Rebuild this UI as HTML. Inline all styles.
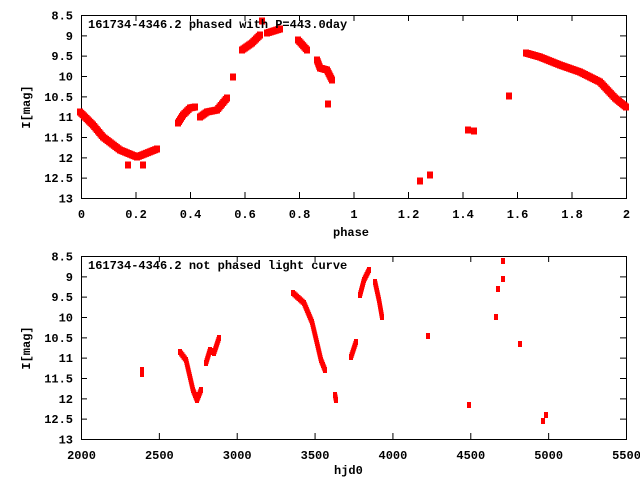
<!DOCTYPE html><html><head><style>body{margin:0;background:#fff}svg{display:block;font-family:"Liberation Mono","DejaVu Sans Mono",monospace;font-size:12px;font-weight:bold}</style></head><body>
<svg id="s" width="640" height="480" xmlns="http://www.w3.org/2000/svg">
<rect width="640" height="480" fill="#fff"/>
<g id="ax" stroke="#000" fill="none" stroke-width="1"></g>
<g id="pts" fill="#f00"></g>
<text x="88" y="28">161734-4346.2 phased with P=443.0day</text>
<text x="88" y="269">161734-4346.2 not phased light curve</text>
<text x="333" y="236">phase</text>
<text x="334" y="474">hjd0</text>
<text transform="translate(30,107) rotate(-90)" text-anchor="middle">I[mag]</text>
<text transform="translate(30,348) rotate(-90)" text-anchor="middle">I[mag]</text>
<g id="lb" text-anchor="end"></g>
</svg>
<script>
var NS="http://www.w3.org/2000/svg",ax=document.getElementById('ax'),lb=document.getElementById('lb'),pts=document.getElementById('pts');
function el(p,t,a,txt){var e=document.createElementNS(NS,t);for(var k in a)e.setAttribute(k,a[k]);if(txt)e.textContent=txt;p.appendChild(e);}
function panel(y0,y1,xl){el(ax,'rect',{x:81.5,y:y0+.5,width:545,height:y1-y0});
var yl=['8.5','9','9.5','10','10.5','11','11.5','12','12.5','13'];
for(var i=0;i<10;i++){var y=y0+i*(y1-y0)/9+.5;el(ax,'path',{d:'M81 '+y+'h6M626 '+y+'h-6'});el(lb,'text',{x:73,y:y+4},yl[i]);}
for(var i=0;i<xl.length;i++){var x=81.5+i*545/(xl.length-1);el(ax,'path',{d:'M'+x+' '+y0+'v6M'+x+' '+y1+'v-6'});var t=document.createElementNS(NS,'text');t.setAttribute('x',x);t.setAttribute('y',y1+20);t.setAttribute('text-anchor','middle');t.textContent=xl[i];document.getElementById('s').appendChild(t);}}
panel(15,198,['0','0.2','0.4','0.6','0.8','1','1.2','1.4','1.6','1.8','2']);
panel(256,439,['2000','2500','3000','3500','4000','4500','5000','5500']);
function line(a,w,h,step){for(var j=0;j+1<a.length;j++){var p=a[j],q=a[j+1];var d=Math.hypot(q[0]-p[0],q[1]-p[1]);var n=Math.max(1,Math.ceil(d/step));for(var k=0;k<=n;k++){var x=p[0]+(q[0]-p[0])*k/n,y=p[1]+(q[1]-p[1])*k/n;el(pts,'rect',{x:x-w/2,y:y-h/2,width:w,height:h});}}}
function dots(a,w,h){a.forEach(function(p){el(pts,'rect',{x:p[0]-w/2,y:p[1]-h/2,width:w,height:h})});}
// top
line([[80,112],[93,125],[103,137],[120,150],[137,157],[157,149]],6,7,2);
dots([[128,165],[143,165],[233,77],[262,21],[328,104],[420,181],[430,175],[509,96],[468,130],[474,131]],6,7);
line([[178,123],[183,115],[190,108],[195,107]],6,7,2);
line([[200,117],[207,112],[217,110],[227,98]],6,7,2);
line([[242,50],[252,43],[260,35]],6,7,2);
line([[267,33],[280,29]],6,7,2);
line([[298,40],[307,50]],6,7,2);
line([[317,60],[320,68],[327,70],[332,80]],6,7,2);
line([[526,53],[540,57],[560,65],[580,72],[600,82],[615,98],[626,107]],6,7,2);
// bottom
line([[142,370],[142,374]],4,6,2);
line([[180,352],[186,360],[190,377],[193,390],[197,400],[201,390]],4,6,2);
line([[206,363],[210,350],[214,353],[219,338]],4,6,2);
line([[293,293],[304,303],[312,322],[317,343],[321,360],[325,370]],4,6,2);
line([[335,395],[336,400]],4,6,2);
line([[351,357],[356,342]],4,6,2);
line([[360,295],[364,280],[369,270]],4,6,2);
line([[375,282],[379,300],[382,317]],4,6,2);
dots([[428,336],[469,405],[496,317],[498,289],[503,279],[503,261],[520,344],[543,421],[546,415]],4,6);
</script></body></html>
